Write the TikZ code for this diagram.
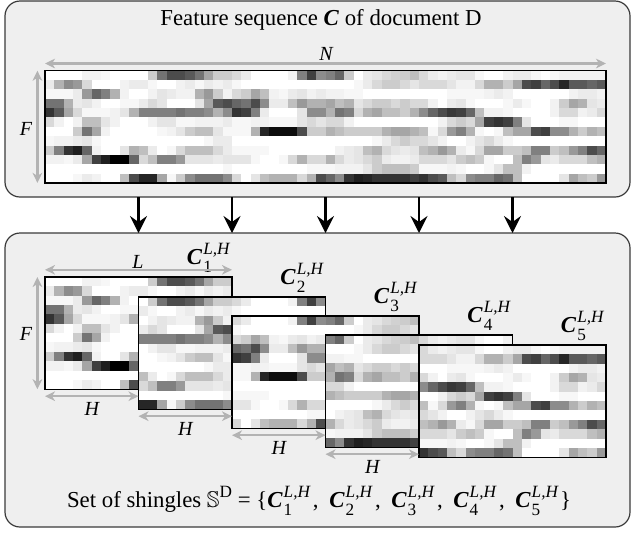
\documentclass[tikz,border=0pt]{standalone}
\usepackage{fontspec}
\usepackage{amssymb}
\setmainfont{Liberation Serif}
\usetikzlibrary{arrows.meta,calc}
\definecolor{panelfill}{HTML}{EFEFEF}
\definecolor{panelline}{HTML}{3A3A3A}
\definecolor{dimgray}{HTML}{B3B3B3}
\newcommand{\scr}{\fontsize{8.6}{9}\selectfont}
\newcommand{\Cvec}[1]{\textbf{\textit{C}}\kern0.5pt\makebox[0pt][l]{\raisebox{-0.36em}{\scr #1}}\raisebox{0.43em}{\scr\itshape L,H}}
\newcommand{\Csep}{\kern1.5pt,\hspace{5.3pt}}
\def\heatdata{%
{0,0,0,0,5,5,3,0,0,0,0,20,55,70,70,65,55,35,20,20,15,8,0,0,0,0,5,50,75,45,50,60,20,0,8,10,15,18,20,25,15,8,5,8,10,10,3,0,0,5,8,8,3,0,3,5,5,5,5,5},%
{8,30,45,40,15,0,0,0,5,8,8,3,0,0,5,8,3,8,5,8,3,0,0,0,0,0,0,0,0,0,0,0,0,3,8,15,20,20,15,10,15,15,15,10,5,5,15,30,30,20,35,70,75,60,70,85,65,65,60,65},%
{3,3,3,8,40,60,50,30,5,0,0,5,10,8,5,5,30,40,20,5,15,20,35,25,5,3,8,10,5,8,5,5,3,3,0,0,0,0,0,0,0,0,0,3,3,3,3,5,8,5,0,0,0,0,0,0,5,8,8,5},%
{55,55,30,8,10,5,0,0,3,3,8,15,10,0,0,0,10,35,65,70,60,55,70,45,8,8,25,40,30,30,35,25,30,10,15,20,20,15,20,15,15,5,0,8,10,3,0,0,0,3,8,3,0,0,5,20,35,30,10,8},%
{80,65,35,15,3,3,3,5,10,30,50,50,50,50,55,50,50,45,30,45,80,75,50,8,0,0,0,10,45,45,30,55,50,15,30,35,25,25,20,30,45,60,70,78,75,60,25,5,5,3,0,0,0,0,5,15,15,5,8,15},%
{15,5,0,5,25,25,10,5,0,0,0,5,10,10,3,3,5,5,5,8,3,3,5,5,3,3,3,10,15,10,15,15,5,0,0,0,0,0,0,0,0,0,5,15,20,15,35,75,80,75,50,10,0,0,0,3,3,0,0,0},%
{0,0,0,20,55,35,5,0,0,0,0,0,3,5,10,20,25,25,10,3,3,3,30,85,95,95,95,70,20,20,30,25,20,20,20,20,30,35,35,30,25,3,15,40,50,30,3,0,3,25,35,35,70,75,45,45,30,20,30,25},%
{3,5,5,8,10,3,0,0,0,0,0,0,0,0,0,0,0,3,8,8,0,0,0,0,0,0,0,0,0,0,0,0,0,0,0,3,8,15,20,15,15,10,5,0,0,5,10,15,8,3,0,0,0,0,0,0,0,0,0,0},%
{20,50,80,88,60,5,0,0,10,30,25,8,0,3,15,25,25,25,15,8,3,3,3,3,0,0,0,0,0,0,0,5,8,10,25,30,15,10,8,10,25,30,40,30,8,3,15,35,35,20,20,25,50,50,20,25,40,50,70,60},%
{5,5,3,8,35,75,88,100,100,60,15,25,50,50,40,10,10,10,8,10,10,10,3,0,0,3,15,30,15,15,30,15,8,10,15,20,8,5,5,8,15,15,15,10,20,25,20,3,0,0,25,50,40,10,8,15,15,15,25,30},%
{0,0,0,0,0,0,0,0,0,0,0,0,0,0,0,0,0,0,0,3,0,0,0,0,0,0,0,0,3,3,3,5,5,5,10,20,25,25,25,20,3,3,3,5,3,0,0,3,10,25,25,5,0,0,0,0,0,0,0,0},%
{0,0,0,3,8,5,0,0,25,70,85,85,35,3,20,45,55,55,55,45,15,0,10,25,30,30,30,15,30,70,60,45,80,88,85,80,80,80,80,75,80,70,65,25,15,45,50,50,60,55,25,0,0,0,0,10,35,25,20,40}%
}
% #1,#2: top-left (px); #3,#4: first and last column
\newcommand{\heatcells}[4]{%
  \foreach \rw [count=\ri from 0] in \heatdata {%
    \foreach \v [count=\ci from 0] in \rw {%
      \ifnum\ci<#3\relax\else\ifnum\ci>#4\relax\else
        \fill[black!\v] ({#1+(\ci-#3)*9.35},{#2+\ri*9.35}) rectangle ++(9.65,9.65);
      \fi\fi
    }%
  }%
}
\begin{document}
\begin{tikzpicture}[x=0.5pt,y=-0.5pt,
  panel/.style={draw=panelline, fill=panelfill, line width=0.6pt, rounded corners=7.5pt,
    inner sep=0pt, outer sep=0pt, anchor=north west},
  mapframe/.style={draw=black, line width=0.65pt, inner sep=0pt, outer sep=0pt, anchor=north west},
  flow/.style={-{Stealth[length=8.5pt,width=8.5pt,inset=3pt]}, line width=1.1pt},
  dimline/.style={{Stealth[length=5pt,width=4.8pt,inset=1.5pt]}-{Stealth[length=5pt,width=4.8pt,inset=1.5pt]},
    draw=dimgray, line width=1.25pt},
  bigtxt/.style={font=\fontsize{11.4}{13.5}\selectfont, inner sep=0pt},
  lbl/.style={font=\fontsize{10}{12}\selectfont\itshape, inner sep=0pt},
  clbl/.style={font=\fontsize{11.4}{13.5}\selectfont, inner sep=0pt, anchor=base east}]
\useasboundingbox (0,0) rectangle (632,532);

% panels
\node[panel, minimum width=312.5pt, minimum height=98pt] (top) at (5,1) {};
\node[panel, minimum width=312.5pt, minimum height=147pt] (bot) at (5,233) {};

% title
\node[bigtxt, anchor=base] (title) at (321,25) {Feature sequence \textbf{\textit{C}} of document D};

% full feature sequence
\heatcells{45}{70.7}{0}{59}
\node[mapframe, minimum width=280.5pt, minimum height=56.1pt] (hm) at (45,70.7) {};
\draw[dimline] ([yshift=3.6pt]hm.north west) coordinate (n1) -- ([yshift=3.6pt]hm.north east) coordinate (n2);
\draw[dimline] ([xshift=-3.8pt]hm.north west) coordinate (f1) -- ([xshift=-3.8pt]hm.south west) coordinate (f2);
\node[lbl] (nlab) at (326,54) {N};
\node[lbl] (flab) at (26,128.5) {F};

% shingles
\foreach \k/\ytop in {1/277,2/297,3/316,4/335,5/345} {
  \pgfmathsetmacro{\xl}{45+93.5*(\k-1)}
  \pgfmathtruncatemacro{\cf}{10*(\k-1)}
  \pgfmathtruncatemacro{\cl}{10*(\k-1)+19}
  \fill[white] (\xl,\ytop) rectangle ++(187,112.2);
  \heatcells{\xl}{\ytop}{\cf}{\cl}
  \node[mapframe, minimum width=93.5pt, minimum height=56.1pt] (s\k) at (\xl,\ytop) {};
  \node[clbl] (c\k) at ([xshift=-1pt,yshift=6.3pt]s\k.north east) {\Cvec{\k}};
}

% dimensions of the shingles
\draw[dimline] ([yshift=3.6pt]s1.north west) -- ([yshift=3.6pt]s1.north east);
\node[lbl] (llab) at (138,262) {L};
\draw[dimline] ([xshift=-3.8pt]s1.north west) -- ([xshift=-3.8pt]s1.south west);
\node[lbl] (flab2) at (26,333.5) {F};
\foreach \a/\b in {1/2,2/3,3/4,4/5} {
  \draw[dimline] ([yshift=-3.5pt]s\a.south west) coordinate (h\a l) -- ([yshift=-3.5pt]s\a.south west -| s\b.west) coordinate (h\a r);
  \node[lbl] (hlab\a) at ([yshift=-6.6pt]$(h\a l)!0.5!(h\a r)$) {H};
}

% flow arrows
\foreach \k in {1,...,5}
  \draw[flow] (top.south -| s\k.north) -- (bot.north -| s\k.north);

% set of shingles
\node[bigtxt, anchor=base] (setlab) at (319,507)
  {Set of shingles $\mathbb{S}$\raisebox{0.43em}{\scr D} = \{\Cvec{1}\Csep\Cvec{2}\Csep\Cvec{3}\Csep\Cvec{4}\Csep\Cvec{5}\kern1pt\}};
\end{tikzpicture}
\end{document}
